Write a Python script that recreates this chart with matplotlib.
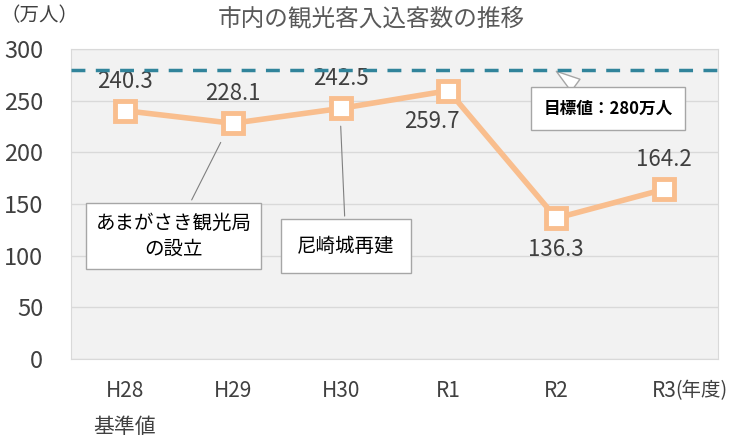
import matplotlib
matplotlib.use('Agg')
import matplotlib.pyplot as plt
import numpy as np

plt.rcParams['font.family'] = ['Noto Sans CJK JP', 'DejaVu Sans']

years = ['H28\n基準値', 'H29', 'H30', 'R1', 'R2', 'R3']
visitors = [240.3, 228.1, 242.5, 259.7, 136.3, 164.2]
label_above = [True, True, True, False, False, True]
target = 280

line_col = '#F9BE8E'
text_col = '#404040'

fig = plt.figure(figsize=(7.42, 4.47), dpi=100)
ax = fig.add_axes([71/742, 1-359/447, 647/742, 310/447])
ax.set_facecolor('#f2f2f2')

x = np.arange(len(years))
ax.plot(x, visitors, color=line_col, lw=4, marker='s', ms=15,
        mfc='white', mec=line_col, mew=3.5, zorder=5)
ax.axhline(target, color='#31849B', lw=2.5, ls=(0, (4, 3)), zorder=4)

for i, v in enumerate(visitors):
    if label_above[i]:
        ax.annotate(f'{v:.1f}', (i, v), xytext=(0, 13), textcoords='offset points',
                    ha='center', va='bottom', fontsize=16, color=text_col)
    else:
        dx = -12 if i == 3 else 0
        ax.annotate(f'{v:.1f}', (i, v), xytext=(dx, -14), textcoords='offset points',
                    ha='center', va='top', fontsize=16, color=text_col)

ax.set_xlim(-0.5, 5.5)
ax.set_ylim(0, 300)
ax.set_yticks(np.arange(0, 301, 50))
ax.grid(axis='y', color='#d9d9d9', lw=1)
ax.set_axisbelow(True)
ax.set_xticks(x)
ax.set_xticklabels(years, fontsize=15, color=text_col, linespacing=1.85)
ax.tick_params(axis='y', labelsize=17, labelcolor=text_col, length=0, pad=20)
ax.tick_params(axis='x', length=0, pad=15)
for s in ax.spines.values():
    s.set_color('#d9d9d9')

fig.text(0.5, 0.957, '市内の観光客入込客数の推移', ha='center', va='center',
         fontsize=17, color='#595959')
fig.text(0.0, 0.965, '（万人）', ha='left', va='center', fontsize=14, color=text_col)
fig.text(0.91, 1-391/447, '(年度)', ha='left', va='center', fontsize=14, color=text_col)

ax.annotate('目標値：280万人', xy=(3.98, target), xytext=(4.48, 242),
            ha='center', va='center', fontsize=12, fontweight='bold', color='black',
            bbox=dict(boxstyle='square,pad=0.75', fc='white', ec='#a6a6a6', lw=1),
            arrowprops=dict(arrowstyle='wedge,tail_width=0.9', fc='white', ec='#a6a6a6', lw=1))
ax.annotate('あまがさき観光局\nの設立', xy=(0.9, 212), xytext=(0.45, 119),
            ha='center', va='center', fontsize=14, color='black', linespacing=1.3,
            bbox=dict(boxstyle='square,pad=0.5', fc='white', ec='#a6a6a6', lw=1),
            arrowprops=dict(arrowstyle='-', color='#808080', lw=0.8))
ax.annotate('尼崎城再建', xy=(2.0, 228), xytext=(2.05, 109),
            ha='center', va='center', fontsize=14, color='black',
            bbox=dict(boxstyle='square,pad=0.85', fc='white', ec='#a6a6a6', lw=1),
            arrowprops=dict(arrowstyle='-', color='#808080', lw=0.8))

plt.savefig('out.png', dpi=100)
